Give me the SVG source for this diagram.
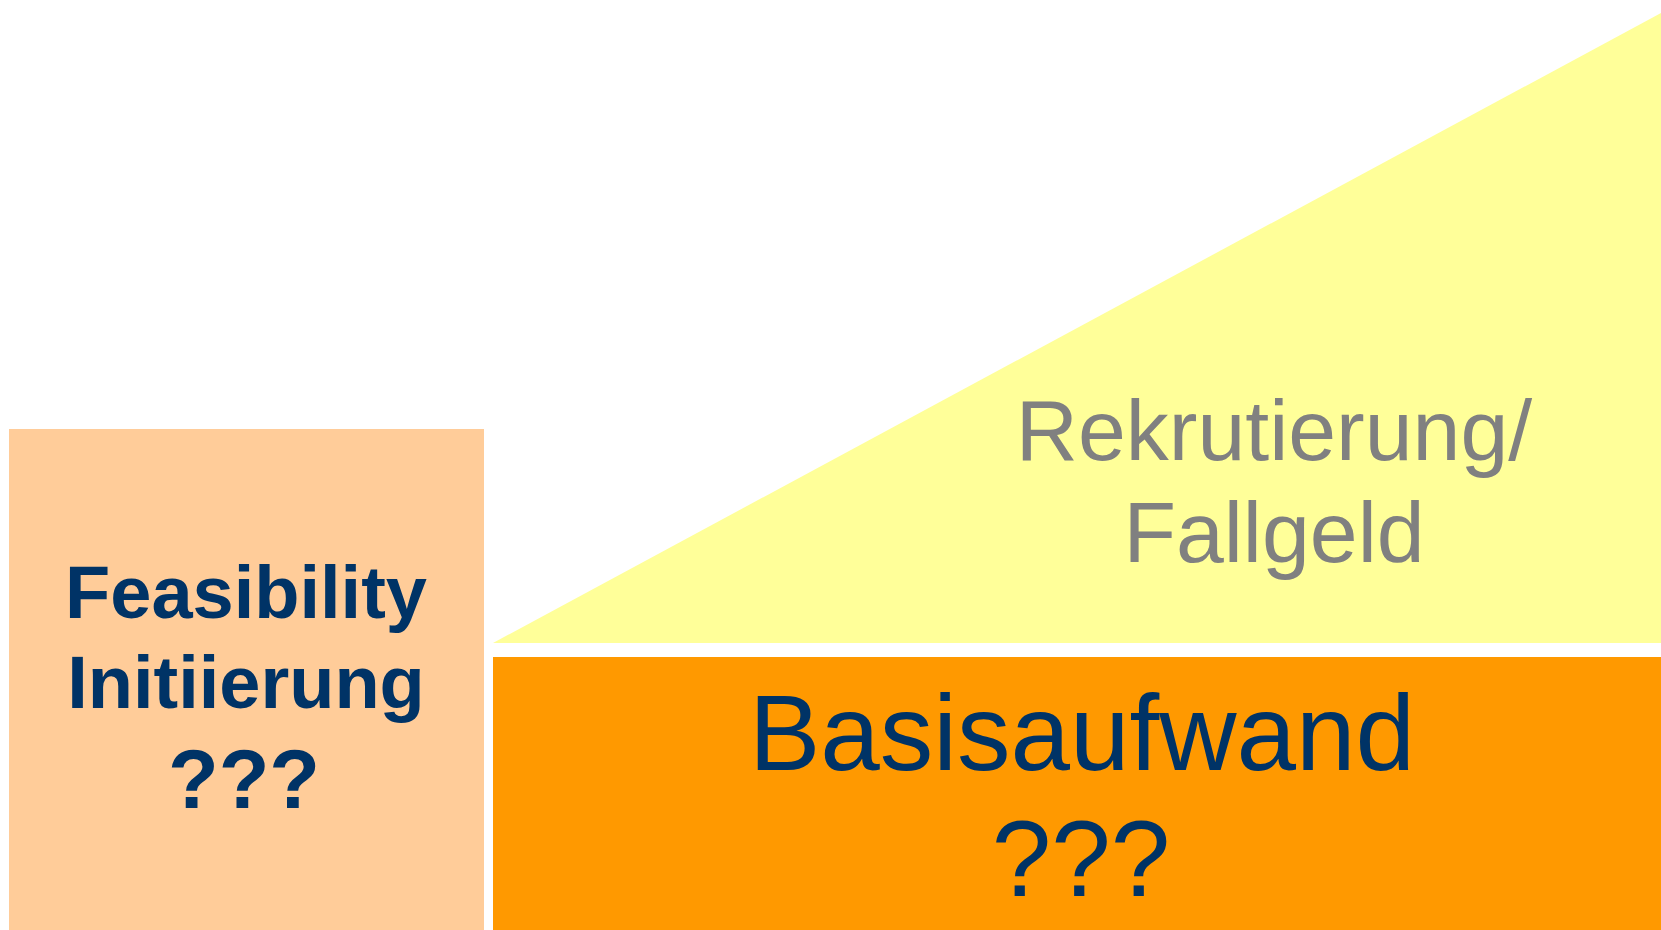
<svg xmlns="http://www.w3.org/2000/svg" width="1661" height="930" viewBox="0 0 1661 930">
<style>
.lbl{font-family:"Liberation Sans",Arial,sans-serif;text-anchor:middle}
.navy{fill:#003366}
.grey{fill:#808080}
</style>
<rect x="0" y="0" width="1661" height="930" fill="#ffffff"/>
<g id="feasibility">
<rect x="9" y="429" width="475" height="501" fill="#FFCC99"/>
<text class="lbl navy" font-size="74" font-weight="bold" x="246" y="618">Feasibility</text>
<text class="lbl navy" font-size="74" font-weight="bold" x="246" y="708">Initiierung</text>
<text class="lbl navy" font-size="83" font-weight="bold" x="244" y="808">???</text>
</g>
<g id="rekrutierung">
<polygon points="493,643 1661,13 1661,643" fill="#FFFF99"/>
<text class="lbl grey" font-size="86" x="1274" y="460">Rekrutierung/</text>
<text class="lbl grey" font-size="86" x="1274" y="562">Fallgeld</text>
</g>
<g id="basisaufwand">
<rect x="493" y="657" width="1168" height="273" fill="#FF9900"/>
<text class="lbl navy" font-size="107" x="1082" y="770">Basisaufwand</text>
<text class="lbl navy" font-size="107" x="1081" y="896">???</text>
</g>
<g id="connectors"></g>
</svg>
